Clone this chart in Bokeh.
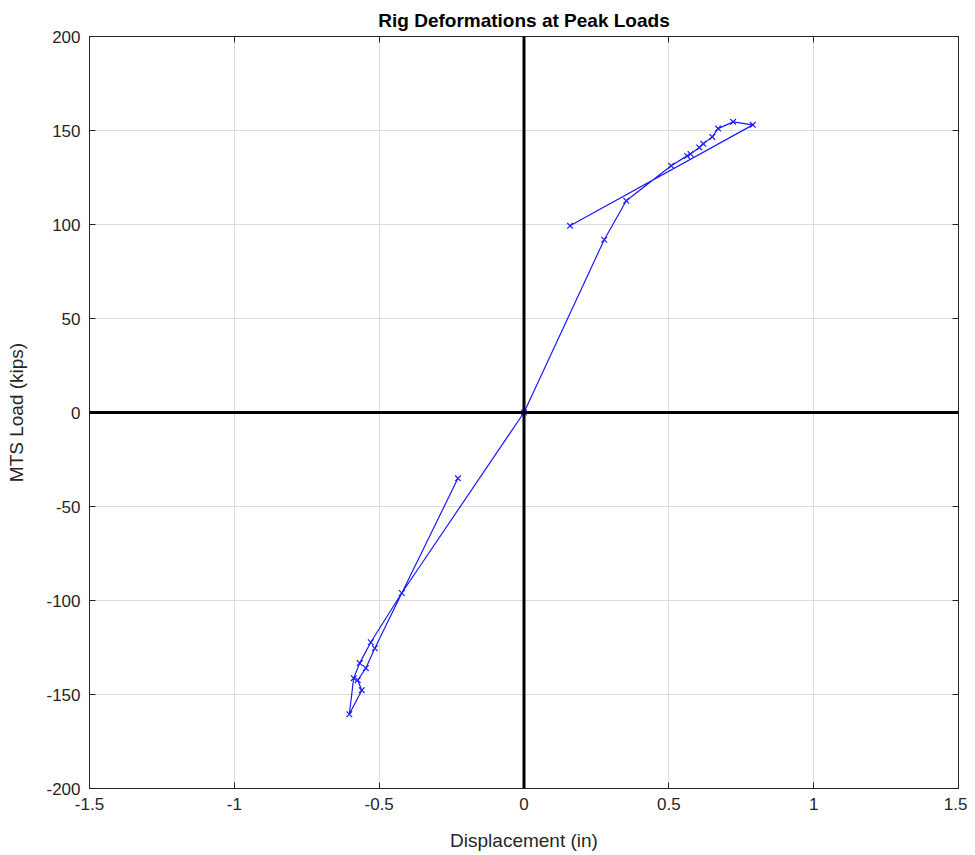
from bokeh.plotting import figure
from bokeh.models import Range1d, LinearAxis, FixedTicker, Span
from bokeh.embed import file_html
from bokeh.resources import INLINE

# Data - path order of the peak points
disp = [-0.228, -0.515, -0.546, -0.574, -0.56, -0.603, -0.588, -0.567, -0.529, -0.422,
        0.0, 0.277, 0.353, 0.508, 0.563, 0.575, 0.605, 0.619, 0.65, 0.67, 0.722, 0.79, 0.159]
load = [-35.0, -125.4, -136.0, -142.4, -147.7, -160.5, -141.3, -133.3, -122.2, -96.0,
        0.0, 91.9, 112.6, 131.2, 136.5, 137.5, 141.0, 142.9, 146.6, 151.0, 154.6, 153.0, 99.3]

x_ticks = [-1.5, -1, -0.5, 0, 0.5, 1, 1.5]
x_labels = ["-1.5", "-1", "-0.5", "0", "0.5", "1", "1.5"]
y_ticks = [-200, -150, -100, -50, 0, 50, 100, 150, 200]
y_labels = ["-200", "-150", "-100", "-50", "0", "50", "100", "150", "200"]

FONT = "Liberation Sans"
AX = "#262626"

p = figure(width=967, height=853, output_backend="svg", toolbar_location=None,
           x_range=Range1d(-1.5, 1.5), y_range=Range1d(-200, 200),
           min_border_left=89, min_border_right=9, min_border_top=36, min_border_bottom=64,
           title="Rig Deformations at Peak Loads")
p.title.align = "center"
p.title.text_font = FONT
p.title.text_font_size = "19px"
p.title.text_font_style = "bold"
p.title.text_color = "black"
p.title.standoff = 11

p.outline_line_color = AX
p.outline_line_width = 1
p.background_fill_color = "white"
p.border_fill_color = "white"

def style_axis(ax, show_labels=True):
    ax.major_tick_in = 6
    ax.major_tick_out = 0
    ax.minor_tick_in = 0
    ax.minor_tick_out = 0
    ax.axis_line_color = AX
    ax.major_tick_line_color = AX
    ax.major_label_text_font = FONT
    ax.major_label_text_font_size = "17px"
    ax.major_label_text_color = AX
    ax.axis_label_text_font = FONT
    ax.axis_label_text_font_size = "19px"
    ax.axis_label_text_font_style = "normal"
    ax.axis_label_text_color = AX
    if not show_labels:
        ax.major_label_text_font_size = "0px"
        ax.major_label_text_alpha = 0

xa = p.xaxis[0]
xa.ticker = FixedTicker(ticks=x_ticks)
xa.major_label_overrides = {t: l for t, l in zip(x_ticks, x_labels)}
xa.axis_label = "Displacement (in)"
style_axis(xa)
xa.major_label_standoff = 9
xa.axis_label_standoff = 17

ya = p.yaxis[0]
ya.ticker = FixedTicker(ticks=y_ticks)
ya.major_label_overrides = {t: l for t, l in zip(y_ticks, y_labels)}
ya.axis_label = "MTS Load (kips)"
style_axis(ya)
ya.major_label_standoff = 9
ya.axis_label_standoff = 16

top = LinearAxis(ticker=FixedTicker(ticks=x_ticks))
style_axis(top, False)
p.add_layout(top, "above")
right = LinearAxis(ticker=FixedTicker(ticks=y_ticks))
style_axis(right, False)
p.add_layout(right, "right")

p.xgrid.ticker = FixedTicker(ticks=x_ticks)
p.ygrid.ticker = FixedTicker(ticks=y_ticks)
p.grid.grid_line_color = "#dcdcdc"
p.grid.grid_line_width = 1

p.add_layout(Span(location=0, dimension="height", line_color="black", line_width=3))
p.add_layout(Span(location=0, dimension="width", line_color="black", line_width=3))

p.line(disp, load, line_color="#1a1aff", line_width=1.2)
p.scatter(disp, load, marker="x", size=8, line_color="#1a1aff", line_width=1.2)

open("out.html", "w").write(file_html(p, INLINE))
